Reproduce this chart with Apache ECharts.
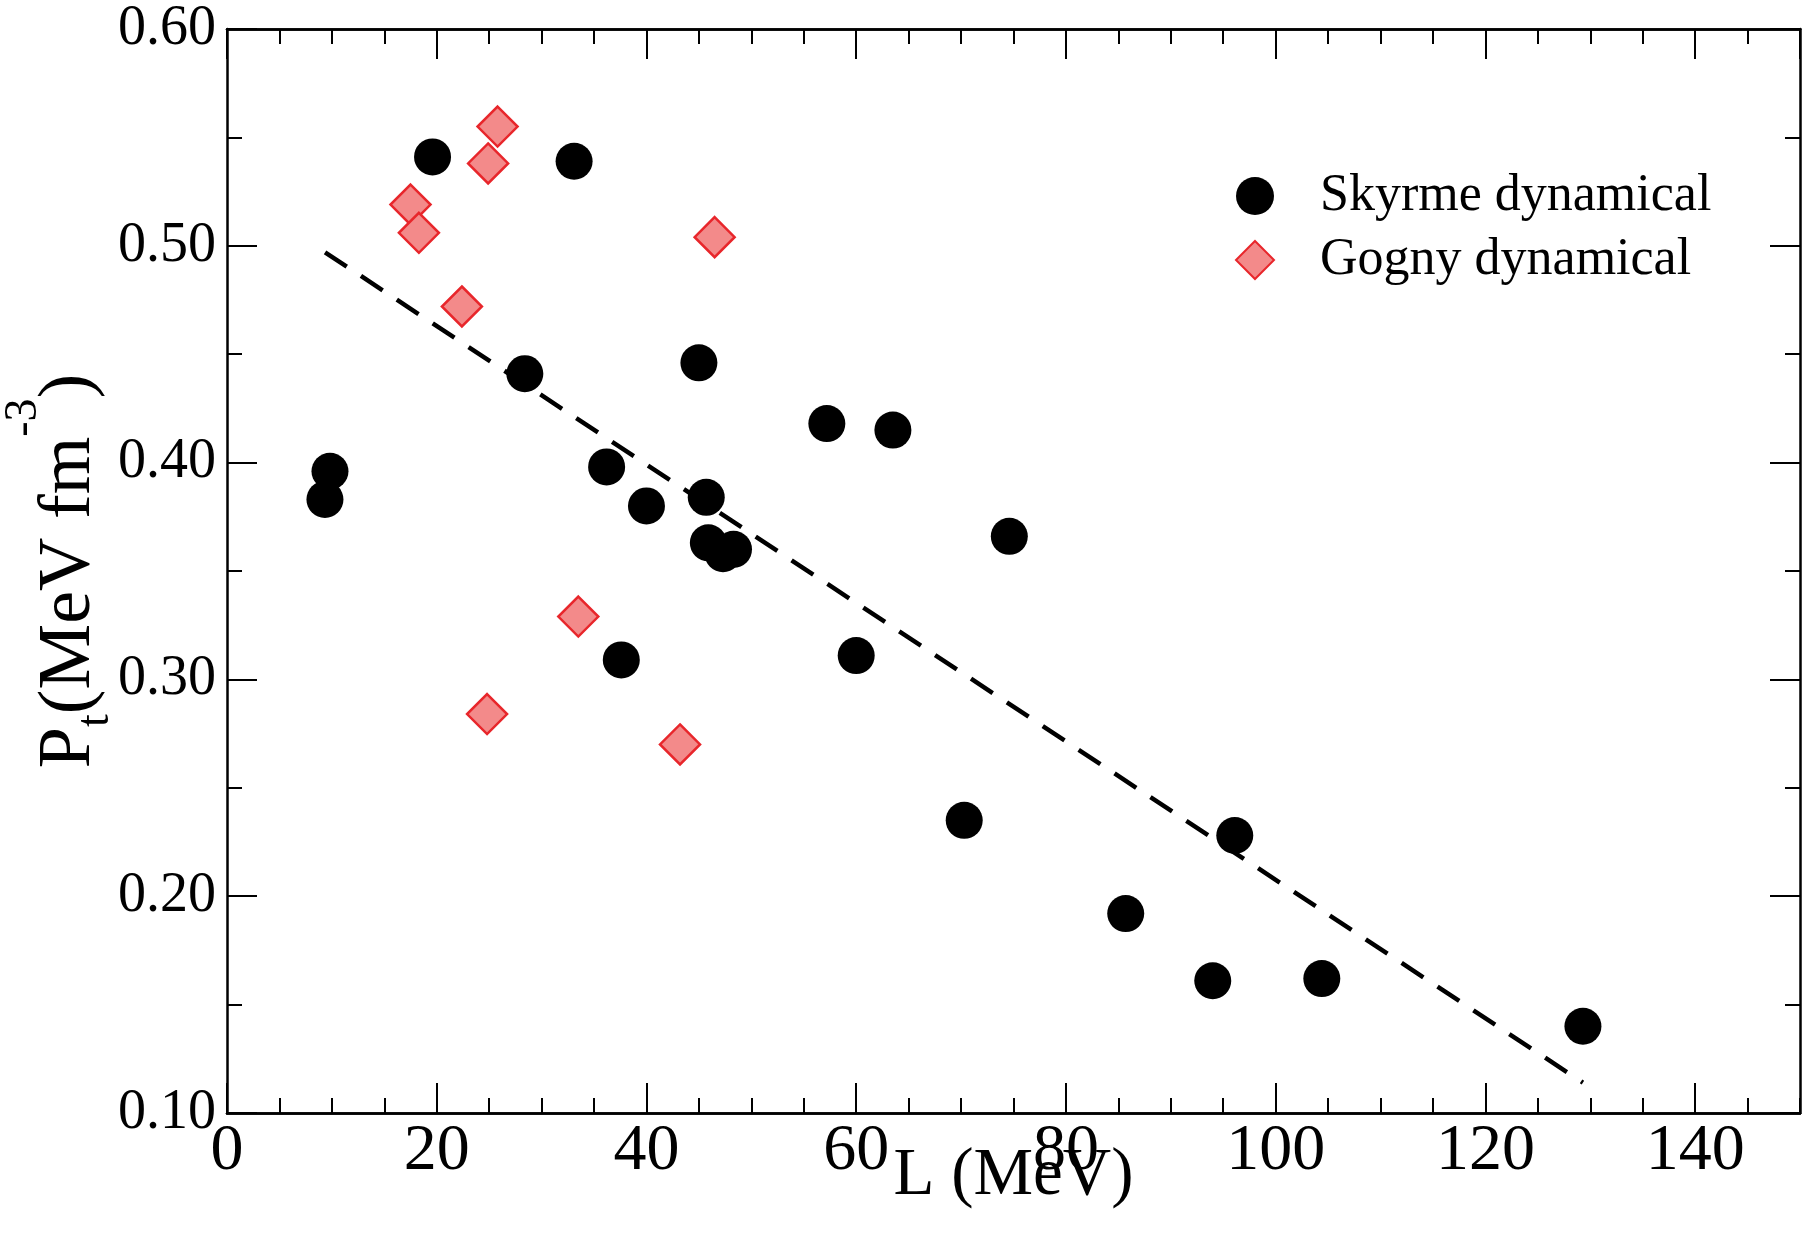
<!DOCTYPE html>
<html>
<head>
<meta charset="utf-8">
<script src="https://cdn.jsdelivr.net/npm/echarts@6/dist/echarts.min.js"></script>
<style>
  html, body { margin: 0; padding: 0; background: #ffffff; }
  #chart { width: 1805px; height: 1247px; }
</style>
</head>
<body>
<div id="chart"></div>
<script>
// Skyrme dynamical: slope parameter L (MeV) and transition pressure P_t (MeV fm^-3)
const skyrmeL = [9.34, 9.82, 19.6, 33.1, 28.4, 36.2, 40.0, 37.6, 45.0, 45.7, 45.9, 47.3, 48.3,
                 57.2, 63.5, 60.0, 74.6, 70.3, 85.7, 96.1, 94.0, 104.4, 129.3];
const skyrmeP = [0.383, 0.396, 0.541, 0.539, 0.441, 0.398, 0.380, 0.309, 0.446, 0.384, 0.363, 0.358, 0.360,
                 0.418, 0.415, 0.311, 0.366, 0.235, 0.192, 0.228, 0.161, 0.162, 0.140];

// Gogny dynamical
const gognyL = [25.8, 24.9, 17.5, 18.3, 22.4, 46.5, 33.5, 24.8, 43.2];
const gognyP = [0.555, 0.538, 0.519, 0.506, 0.472, 0.504, 0.329, 0.284, 0.270];

// Linear fit drawn as a dashed line between its two end points
const fitL = [9.35, 129.3];
const fitP = [0.497, 0.114];

// Tick labels
const xTickValues = [0, 20, 40, 60, 80, 100, 120, 140];
const xTickLabels = ['0', '20', '40', '60', '80', '100', '120', '140'];
const yTickValues = [0.1, 0.2, 0.3, 0.4, 0.5, 0.6];
const yTickLabels = ['0.10', '0.20', '0.30', '0.40', '0.50', '0.60'];

const seriesNames = ['Skyrme dynamical', 'Gogny dynamical'];

const FONT = 'Liberation Serif';
const INK = '#000000';

function lookupLabel(values, labels, v) {
  for (let i = 0; i < values.length; i++) {
    if (Math.abs(values[i] - v) < 1e-6) return labels[i];
  }
  return '';
}

const zip = (a, b) => a.map((v, i) => [v, b[i]]);

const chart = echarts.init(document.getElementById('chart'), null, { renderer: 'canvas' });

const axisLine = { show: true, onZero: false, lineStyle: { color: INK, width: 2.5 } };

// Major (every 20) and minor (every 5) ticks are drawn by two overlaid axes per side
function xAxisDef(position, major) {
  const main = major && position === 'bottom';
  return {
    type: 'value', position: position, min: 0, max: 150,
    interval: major ? 20 : 5,
    axisLine: axisLine,
    axisTick: { show: true, inside: true, length: major ? 30 : 15, lineStyle: { color: INK, width: 2 } },
    axisLabel: main ? {
      show: true, margin: 6, color: INK, fontFamily: FONT, fontSize: 66,
      showMaxLabel: false,
      formatter: v => lookupLabel(xTickValues, xTickLabels, v)
    } : { show: false },
    splitLine: { show: false },
    name: main ? 'L (MeV)' : '',
    nameLocation: 'middle', nameGap: 30, nameMoveOverlap: false,
    nameTextStyle: { color: INK, fontFamily: FONT, fontSize: 67, verticalAlign: 'top' }
  };
}

// Sub- and superscript in the y title are shifted with asymmetric padding
function yAxisDef(position, main) {
  return {
    type: 'value', position: position, min: 0.1, max: 0.6, interval: 0.1,
    axisLine: axisLine,
    axisTick: { show: true, inside: true, length: 30, lineStyle: { color: INK, width: 2 } },
    minorTick: { show: true, splitNumber: 2, length: 15, lineStyle: { color: INK, width: 2 } },
    axisLabel: main ? {
      show: true, margin: 11, color: INK, fontFamily: FONT, fontSize: 56,
      formatter: v => lookupLabel(yTickValues, yTickLabels, v)
    } : { show: false },
    splitLine: { show: false },
    minorSplitLine: { show: false },
    name: main ? '{n|P}{sub|t}{n|(MeV fm}{sup|-3}{n|)}' : '',
    nameLocation: 'middle', nameGap: 114, nameRotate: 90, nameMoveOverlap: false,
    nameTextStyle: {
      color: INK, fontFamily: FONT, fontSize: 74,
      rich: {
        n: { color: INK, fontFamily: FONT, fontSize: 74, lineHeight: 86 },
        sub: { color: INK, fontFamily: FONT, fontSize: 46, lineHeight: 86, padding: [52, 0, 0, 0] },
        sup: { color: INK, fontFamily: FONT, fontSize: 46, lineHeight: 86, padding: [0, 0, 92, 0] }
      }
    }
  };
}

chart.setOption({
  animation: false,
  backgroundColor: '#ffffff',
  grid: { left: 227, right: 5, top: 29, bottom: 134, containLabel: false, outerBoundsMode: 'none' },
  xAxis: [
    xAxisDef('bottom', true), xAxisDef('bottom', false),
    xAxisDef('top', true), xAxisDef('top', false)
  ],
  yAxis: [yAxisDef('left', true), yAxisDef('right', false)],
  legend: {
    data: seriesNames,
    orient: 'vertical',
    left: 1230, top: 165,
    itemWidth: 38, itemHeight: 38, itemGap: 12,
    textStyle: { color: INK, fontFamily: FONT, fontSize: 52, lineHeight: 38, padding: [0, 0, 0, 41] }
  },
  series: [
    {
      name: 'fit', type: 'line', xAxisIndex: 0, yAxisIndex: 0,
      data: zip(fitL, fitP), showSymbol: false, symbol: 'none',
      lineStyle: { color: INK, width: 4.5, type: [26, 17] },
      silent: true, z: 3
    },
    {
      name: seriesNames[0], type: 'scatter', xAxisIndex: 0, yAxisIndex: 0,
      data: zip(skyrmeL, skyrmeP), symbol: 'circle', symbolSize: 37,
      itemStyle: { color: INK, opacity: 1 }, z: 2
    },
    {
      name: seriesNames[1], type: 'scatter', xAxisIndex: 0, yAxisIndex: 0,
      data: zip(gognyL, gognyP), symbol: 'diamond', symbolSize: 40,
      itemStyle: { color: '#f38a8a', borderColor: '#e8262b', borderWidth: 2.5, opacity: 1 }, z: 4
    }
  ]
});
</script>
</body>
</html>
